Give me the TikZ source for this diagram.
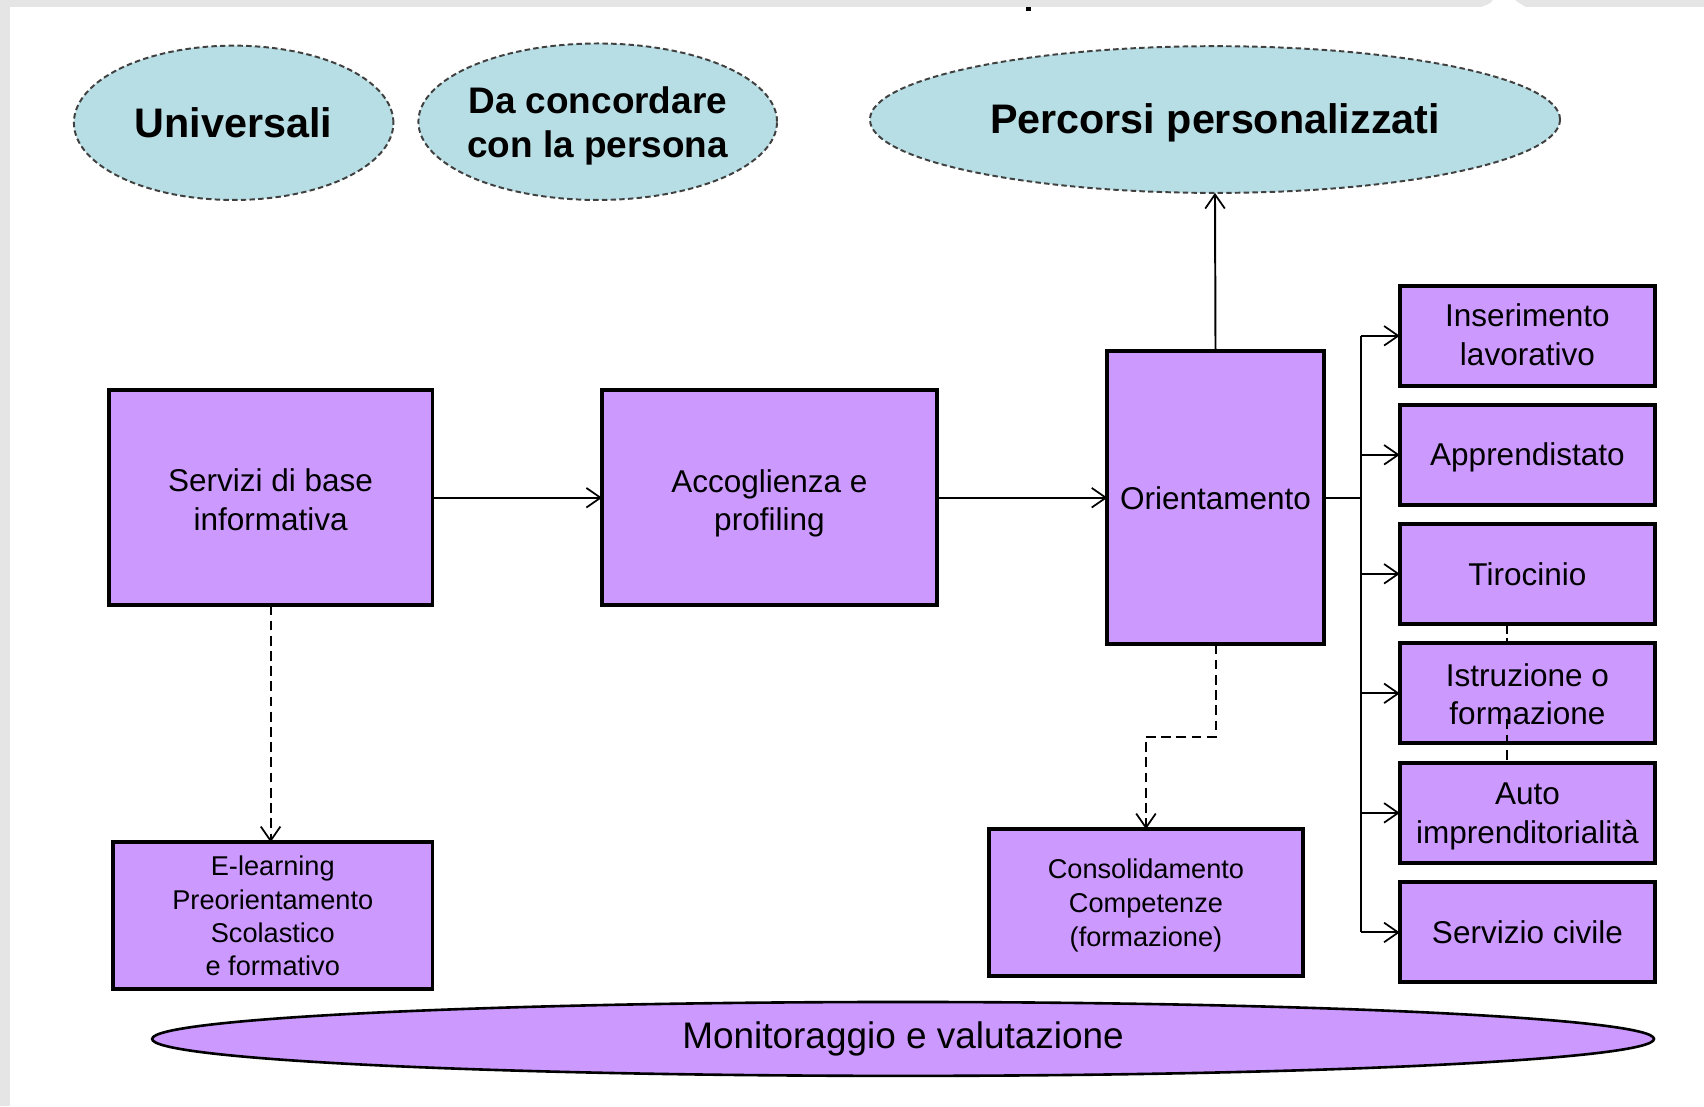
\documentclass[tikz,border=0pt]{standalone}
\usepackage{fontspec}
\setmainfont{Liberation Sans}
\usetikzlibrary{shapes.geometric,arrows.meta,calc}
\definecolor{boxpurple}{RGB}{204,153,255}
\definecolor{cloudfill}{RGB}{183,222,228}
\definecolor{framegray}{RGB}{229,229,229}
\begin{document}
\begin{tikzpicture}[x=1pt,y=-1pt,
  box/.style={draw=black, line width=3.6pt, fill=boxpurple, inner sep=0pt, outer sep=0pt},
  lt/.style={anchor=base, inner sep=0pt, font=\fontsize{29}{36}\selectfont},
  slt/.style={anchor=base, inner sep=0pt, font=\fontsize{25}{31}\selectfont},
  cloud/.style={ellipse, draw=black!75, line width=1.8pt, dash pattern=on 5pt off 3pt, fill=cloudfill, inner sep=0pt, outer sep=0pt},
  cloudtext/.style={font=\bfseries\fontsize{38}{46}\selectfont, align=center},
  conn/.style={line width=1.8pt, -{Straight Barb[length=13pt,width=18pt,line width=1.6pt]}},
  dconn/.style={conn, dash pattern=on 9pt off 5pt},
  plain/.style={line width=1.8pt}
]
\useasboundingbox (0,0) rectangle (1568,1018);
\fill[white] (0,0) rectangle (1568,1018);
\fill[framegray] (0,0) rectangle (1568,6.5);
\fill[framegray] (0,0) rectangle (9,1018);
\fill[white] (1363,6.5) .. controls (1372,3) .. (1374,0) -- (1394,0) .. controls (1398,3) .. (1404,6.5) -- cycle;
\fill[black] (944.5,6.5) rectangle (949,10.5);

% top clouds
\node[cloud, minimum width=294pt, minimum height=142pt] (u) at (215,113) {};
\node[cloudtext] (ut) at (u) {Universali};
\node[cloud, minimum width=330pt, minimum height=144pt] (d) at (550,112) {};
\node[cloudtext, font=\bfseries\fontsize{34}{41}\selectfont, yshift=-4pt] (dt) at (d) {Da concordare\\con la persona};
\node[cloud, minimum width=635pt, minimum height=135pt] (p) at (1118,110) {};
\node[cloudtext, yshift=-3pt] (pt) at (p) {Percorsi personalizzati};

% main boxes
\node[box, minimum width=298pt, minimum height=198pt] (s) at (249,458) {};
\node[lt] (s1) at (249,452) {Servizi di base};
\node[lt] (s2) at (249,488) {informativa};
\node[box, minimum width=308pt, minimum height=198pt] (a) at (708,458) {};
\node[lt] (a1) at (708,453) {Accoglienza e};
\node[lt] (a2) at (708,488.5) {profiling};
\node[box, minimum width=199pt, minimum height=270pt] (o) at (1118.5,458) {};
\node[lt] (o1) at (1118.5,468.5) {Orientamento};

% right column
\node[box, minimum width=235pt, minimum height=92pt] (r1) at (1405.5,309) {};
\node[lt] (r1a) at (1405.5,300.5) {Inserimento};
\node[lt] (r1b) at (1405.5,336.5) {lavorativo};
\node[box, minimum width=235pt, minimum height=92pt] (r2) at (1405.5,418.5) {};
\node[lt] (r2a) at (1405.5,428.5) {Apprendistato};
\node[box, minimum width=235pt, minimum height=92pt] (r3) at (1405.5,528) {};
\node[lt] (r3a) at (1405.5,539) {Tirocinio};
\node[box, minimum width=235pt, minimum height=92pt] (r4) at (1405.5,638) {};
\node[lt] (r4a) at (1405.5,631.5) {Istruzione o};
\node[lt] (r4b) at (1405.5,666.5) {formazione};
\node[box, minimum width=235pt, minimum height=92pt] (r5) at (1405.5,748) {};
\node[lt] (r5a) at (1405.5,740) {Auto};
\node[lt] (r5b) at (1405.5,776) {imprenditorialità};
\node[box, minimum width=235pt, minimum height=92pt] (r6) at (1405.5,858) {};
\node[lt] (r6a) at (1405.5,868.5) {Servizio civile};

% lower boxes
\node[box, minimum width=294pt, minimum height=135pt] (e) at (251,842.5) {};
\node[slt] (e1) at (251,806) {E-learning};
\node[slt] (e2) at (251,836.5) {Preorientamento};
\node[slt] (e3) at (251,867) {Scolastico};
\node[slt] (e4) at (251,898) {e formativo};
\node[box, minimum width=289pt, minimum height=135pt] (c) at (1054.5,830.5) {};
\node[slt] (c1) at (1054.5,808) {Consolidamento};
\node[slt] (c2) at (1054.5,839.5) {Competenze};
\node[slt] (c3) at (1054.5,871) {(formazione)};

% monitoring
\node[ellipse, draw=black, line width=2.4pt, fill=boxpurple, minimum width=1382pt, minimum height=68pt, inner sep=0pt] (m) at (831,956) {};
\node[font=\fontsize{34}{40}\selectfont] (mt) at (m) {Monitoraggio e valutazione};

% connectors
\draw[conn] (s.east) -- (a.west);
\draw[conn] (a.east) -- (o.west);
\draw[conn] (o.north) -- (p.south);
\coordinate (j) at (1252,458);
\draw[plain] (o.east) -- (j);
\draw[plain] (j |- r1.west) -- (j |- r6.west);
\foreach \r in {r1,r2,r3,r4,r5,r6}{
  \draw[conn] (j |- \r.west) -- (\r.west);
}
\draw[dconn] (s.south) -- (s.south |- e.north);
\coordinate (k) at (1118.5,678);
\draw[dconn] (o.south) -- (k) -| (c.north);

% small dashed remnants
\draw[plain, dash pattern=on 7pt off 4pt] (1387,576) -- (1387,590);
\draw[plain, dash pattern=on 9pt off 5pt] (1387,662) -- (1387,700);
\end{tikzpicture}
\end{document}
